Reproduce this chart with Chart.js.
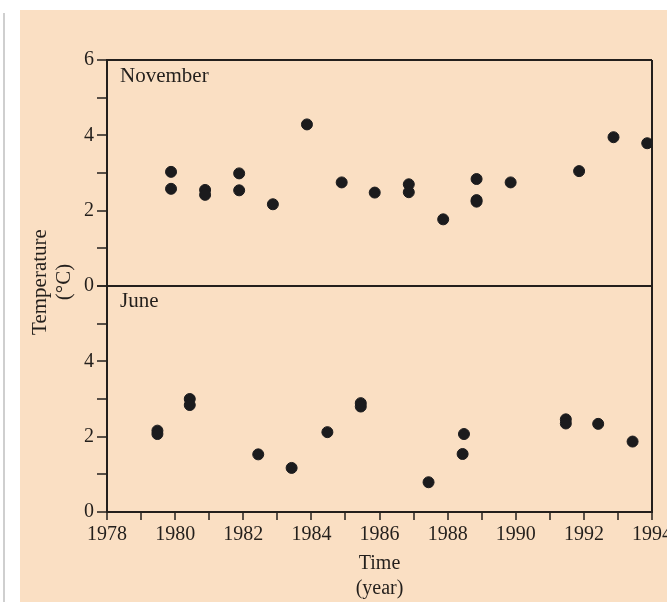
<!DOCTYPE html>
<html>
<head>
<meta charset="utf-8">
<script src="https://cdn.jsdelivr.net/npm/chart.js@4.4.1/dist/chart.umd.min.js"></script>
<style>
  html, body { margin: 0; padding: 0; background: #fff; overflow: hidden; width: 667px; height: 602px; }
  #regla { position: absolute; left: 3px; top: 13px; width: 2px; height: 589px; background: #cfcfcf; }
  #papel { position: absolute; left: 20px; top: 10px; width: 680px; height: 592px; background: #fadfc3; }
  #papel canvas { position: absolute; left: 0; top: 0; }
</style>
</head>
<body>
<div id="regla"></div>
<div id="papel"><canvas id="grafico" width="680" height="592"></canvas></div>
<script>
// Datos (año, temperatura en °C)
const aniosNoviembre = [1979.88, 1979.88, 1980.88, 1980.88, 1981.88, 1981.88, 1982.87, 1983.87, 1984.89,
    1985.86, 1986.86, 1986.86, 1987.87, 1988.85, 1988.85, 1988.85, 1989.85, 1991.86, 1992.87, 1993.86];
const tempNoviembre = [3.03, 2.58, 2.55, 2.42, 2.99, 2.54, 2.17, 4.29, 2.75,
    2.48, 2.70, 2.49, 1.77, 2.84, 2.28, 2.24, 2.75, 3.05, 3.95, 3.79];

const aniosJunio = [1979.48, 1979.48, 1980.43, 1980.43, 1982.44, 1983.42, 1984.47, 1985.45, 1985.45,
    1987.44, 1988.48, 1988.44, 1991.47, 1991.47, 1992.42, 1993.43];
const tempJunio = [2.16, 2.07, 3.00, 2.84, 1.53, 1.17, 2.12, 2.89, 2.80,
    0.79, 2.07, 1.54, 2.46, 2.35, 2.34, 1.87];

const etiquetasPaneles = ['November', 'June'];
const tituloEjeY = ['Temperature', '(°C)'];
const tituloEjeX = ['Time', '(year)'];
const aniosTicks = [1978, 1980, 1982, 1984, 1986, 1988, 1990, 1992, 1994];

const tinta = '#231f1c';
const fuente = 'Liberation Serif, DejaVu Serif, serif';

function aPuntos(xs, ys) {
    return xs.map((x, i) => ({ x: x, y: ys[i] }));
}

// Etiquetas de panel y título vertical
const textosExtra = {
    id: 'textosExtra',
    afterDraw(chart) {
        const ctx = chart.ctx;
        const xs = chart.scales.x;
        const izq = xs.getPixelForValue(1978) + 13;
        ctx.save();
        ctx.fillStyle = tinta;
        ctx.font = '21px ' + fuente;
        ctx.textBaseline = 'middle';
        ctx.fillText(etiquetasPaneles[0], izq, chart.scales.yNov.getPixelForValue(6) + 16);
        ctx.fillText(etiquetasPaneles[1], izq, chart.scales.yJun.getPixelForValue(6) + 15);

        ctx.translate(20, 272);
        ctx.rotate(-Math.PI / 2);
        ctx.textAlign = 'center';
        ctx.fillText(tituloEjeY[0], 0, 0);
        ctx.fillText(tituloEjeY[1], 0, 24);
        ctx.restore();
    }
};

function ejeY(etiquetas) {
    return {
        type: 'linear',
        position: 'left',
        stack: 'temperatura',
        stackWeight: 1,
        min: 0,
        max: 6,
        afterFit(scale) { scale.width = 87; },
        border: { display: true, color: tinta, width: 2 },
        grid: {
            drawOnChartArea: true,
            color: c => (etiquetas.length === 4 && (c.tick.value === 0 || c.tick.value === 6)) ? tinta : 'rgba(0,0,0,0)',
            lineWidth: 2,
            tickColor: tinta,
            tickWidth: 1.5,
            tickLength: 10
        },
        ticks: {
            stepSize: 1,
            autoSkip: false,
            padding: 3,
            color: tinta,
            font: { family: fuente, size: 20 },
            callback: v => etiquetas.includes(v) ? String(v) : ''
        }
    };
}

new Chart(document.getElementById('grafico'), {
    type: 'scatter',
    data: {
        datasets: [
            {
                label: etiquetasPaneles[0],
                data: aPuntos(aniosNoviembre, tempNoviembre),
                yAxisID: 'yNov',
                backgroundColor: '#1b1b1d',
                borderColor: '#1b1b1d',
                pointRadius: 5.5,
                pointHoverRadius: 5.5
            },
            {
                label: etiquetasPaneles[1],
                data: aPuntos(aniosJunio, tempJunio),
                yAxisID: 'yJun',
                backgroundColor: '#1b1b1d',
                borderColor: '#1b1b1d',
                pointRadius: 5.5,
                pointHoverRadius: 5.5
            }
        ]
    },
    options: {
        responsive: false,
        animation: false,
        layout: { padding: { left: 0, top: 50, right: 48, bottom: 0 } },
        plugins: {
            legend: { display: false },
            tooltip: { enabled: false }
        },
        scales: {
            x: {
                type: 'linear',
                position: 'bottom',
                min: 1978,
                max: 1994,
                afterFit(scale) { scale.height = 90; },
                border: { display: true, color: tinta, width: 2 },
                grid: {
                    drawOnChartArea: true,
                    color: c => c.tick.value === 1994 ? tinta : 'rgba(0,0,0,0)',
                    lineWidth: 2,
                    tickColor: tinta,
                    tickWidth: 1.5,
                    tickLength: 8
                },
                ticks: {
                    stepSize: 1,
                    autoSkip: false,
                    maxRotation: 0,
                    padding: 3,
                    color: tinta,
                    font: { family: fuente, size: 20 },
                    callback: v => aniosTicks.includes(v) ? String(v) : ''
                },
                title: {
                    display: true,
                    text: tituloEjeX,
                    color: tinta,
                    font: { family: fuente, size: 20, lineHeight: 1.25 },
                    padding: { top: 0, bottom: 1 }
                }
            },
            yJun: ejeY([0, 2, 4]),
            yNov: ejeY([0, 2, 4, 6])
        }
    },
    plugins: [textosExtra]
});
</script>
</body>
</html>
